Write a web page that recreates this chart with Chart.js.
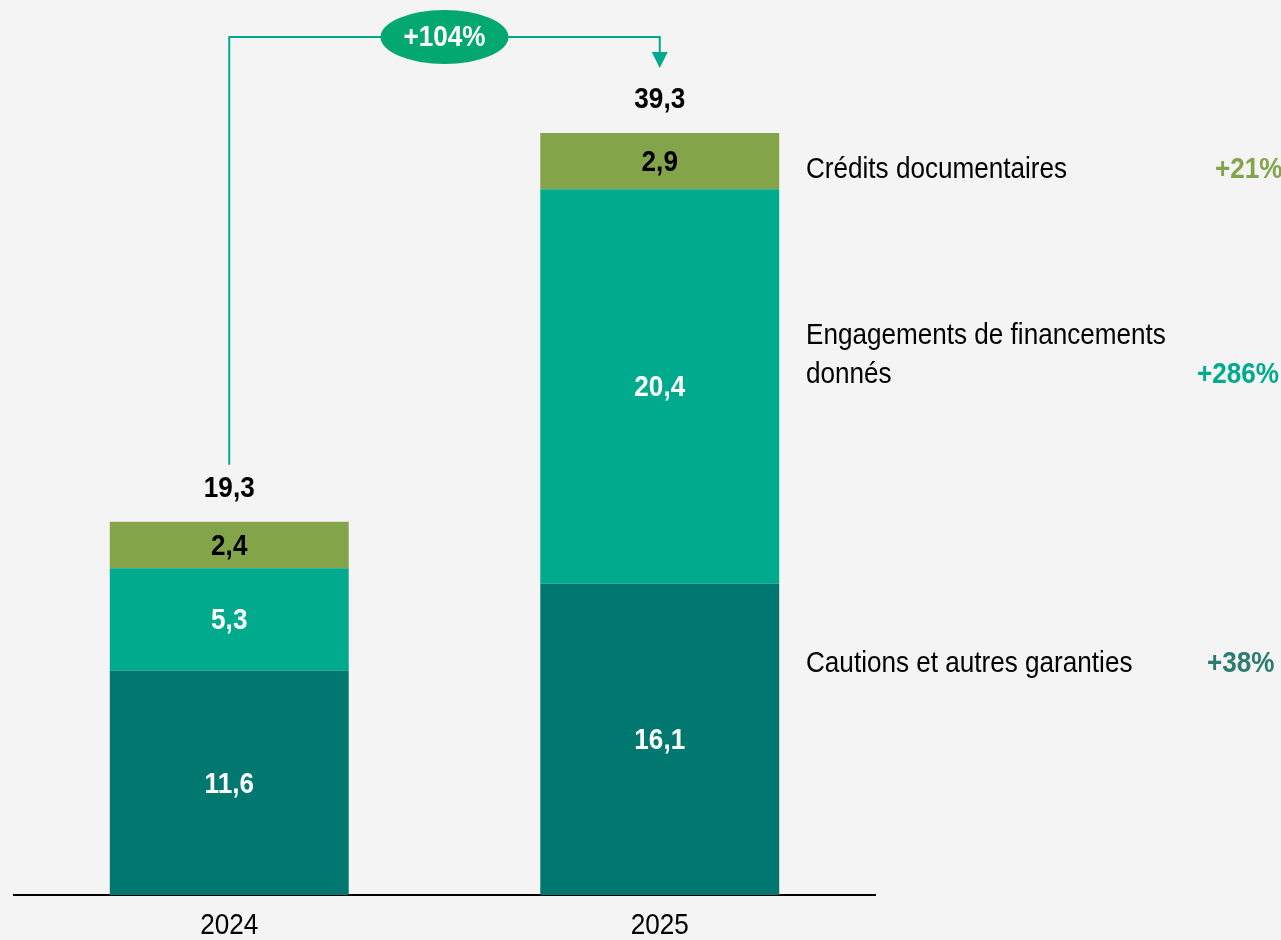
<!DOCTYPE html>
<html>
<head>
<meta charset="utf-8">
<script src="https://cdn.jsdelivr.net/npm/chart.js@4"></script>
<style>
  html, body { margin: 0; padding: 0; background: #f4f4f4; }
  #wrap { width: 1281px; height: 940px; position: relative; }
</style>
</head>
<body>
<div id="wrap"><canvas id="chart" width="1281" height="940"></canvas></div>
<script>
const years = ["2024", "2025"];
const seriesNames = ["Cautions et autres garanties", "Engagements de financements donnés", "Crédits documentaires"];
const cautions = [11.6, 16.1];
const engagements = [5.3, 20.4];
const credits = [2.4, 2.9];
const totals = [19.3, 39.3];
const growthLabels = ["+38%", "+286%", "+21%"];
const totalGrowth = "+104%";

const FONT = "'Liberation Sans Narrow', 'Arial Narrow', 'Liberation Sans', Arial, sans-serif";
const colors = ["#00776f", "#00aa8d", "#84a44a"];
const growthColors = ["#2c7c71", "#00aa8d", "#84a44a"];
const labelColors = ["#ffffff", "#ffffff", "#000000"];
const SQUEEZE = 0.9; // fake a narrow face

function fmt(v) {
  return v.toFixed(1).replace(".", ",");
}

function drawText(ctx, text, x, y, align, font, color) {
  ctx.save();
  ctx.translate(x, y);
  ctx.scale(SQUEEZE, 1);
  ctx.font = font;
  ctx.fillStyle = color;
  ctx.textAlign = align;
  ctx.textBaseline = "middle";
  ctx.fillText(text, 0, 0);
  ctx.restore();
}

// draw values inside bars, totals, side labels and the growth arrow
const overlayPlugin = {
  id: "overlay",
  afterDatasetsDraw(chart) {
    const ctx = chart.ctx;
    const area = chart.chartArea;
    const bold = "bold 29px " + FONT;
    const regular = "29px " + FONT;

    chart.data.datasets.forEach((ds, i) => {
      const meta = chart.getDatasetMeta(i);
      meta.data.forEach((bar, j) => {
        const mid = (bar.y + bar.base) / 2;
        drawText(ctx, fmt(ds.data[j]), bar.x, mid + 2, "center", bold, labelColors[i]);
      });
    });

    // category labels
    const xScale = chart.scales.x;
    years.forEach((y, j) => {
      drawText(ctx, y, xScale.getPixelForTick(j), area.bottom + 31, "center", regular, "#000");
    });

    // totals
    const topMeta = chart.getDatasetMeta(2);
    const tops = [];
    years.forEach((y, j) => {
      const bar = topMeta.data[j];
      tops.push({ x: bar.x, y: bar.y });
      drawText(ctx, fmt(totals[j]), bar.x, bar.y - 33, "center", bold, "#000");
    });

    // side labels
    const legendX = area.right - 69;
    drawText(ctx, "Crédits documentaires", legendX, 170, "left", regular, "#000");
    drawText(ctx, "Engagements de financements", legendX, 336, "left", regular, "#000");
    drawText(ctx, "donnés", legendX, 375, "left", regular, "#000");
    drawText(ctx, "Cautions et autres garanties", legendX, 664, "left", regular, "#000");

    drawText(ctx, growthLabels[2], 1215, 170, "left", bold, growthColors[2]);
    drawText(ctx, growthLabels[1], 1197, 375, "left", bold, growthColors[1]);
    drawText(ctx, growthLabels[0], 1207, 664, "left", bold, growthColors[0]);

    // growth arrow
    ctx.save();
    const lineY = 37;
    ctx.strokeStyle = "#00a88c";
    ctx.lineWidth = 2;
    ctx.beginPath();
    ctx.moveTo(tops[0].x, tops[0].y - 57);
    ctx.lineTo(tops[0].x, lineY);
    ctx.lineTo(tops[1].x, lineY);
    ctx.lineTo(tops[1].x, tops[1].y - 80);
    ctx.stroke();
    ctx.fillStyle = "#00a88c";
    ctx.beginPath();
    ctx.moveTo(tops[1].x - 8, tops[1].y - 81);
    ctx.lineTo(tops[1].x + 8, tops[1].y - 81);
    ctx.lineTo(tops[1].x, tops[1].y - 65);
    ctx.closePath();
    ctx.fill();

    const ex = (tops[0].x + tops[1].x) / 2;
    ctx.fillStyle = "#02a870";
    ctx.beginPath();
    ctx.ellipse(ex, lineY, 64, 27, 0, 0, Math.PI * 2);
    ctx.fill();
    ctx.restore();
    drawText(ctx, totalGrowth, ex, lineY + 1, "center", bold, "#fff");
  },
};

new Chart(document.getElementById("chart"), {
  type: "bar",
  data: {
    labels: years,
    datasets: [
      { label: seriesNames[0], data: cautions, backgroundColor: colors[0] },
      { label: seriesNames[1], data: engagements, backgroundColor: colors[1] },
      { label: seriesNames[2], data: credits, backgroundColor: colors[2] },
    ],
  },
  options: {
    responsive: false,
    animation: false,
    layout: { padding: { left: 14, right: 406, top: 0, bottom: 0 } },
    datasets: { bar: { barPercentage: 0.555, categoryPercentage: 1, borderWidth: 0 } },
    plugins: { legend: { display: false }, tooltip: { enabled: false } },
    scales: {
      x: {
        stacked: true,
        grid: { display: false, drawTicks: false },
        border: { display: true, color: "#000", width: 2 },
        ticks: { display: false },
        afterFit: (scale) => { scale.height = 45; },
      },
      y: {
        stacked: true,
        display: false,
        min: 0,
        max: 46.28,
      },
    },
  },
  plugins: [overlayPlugin],
});
</script>
</body>
</html>
